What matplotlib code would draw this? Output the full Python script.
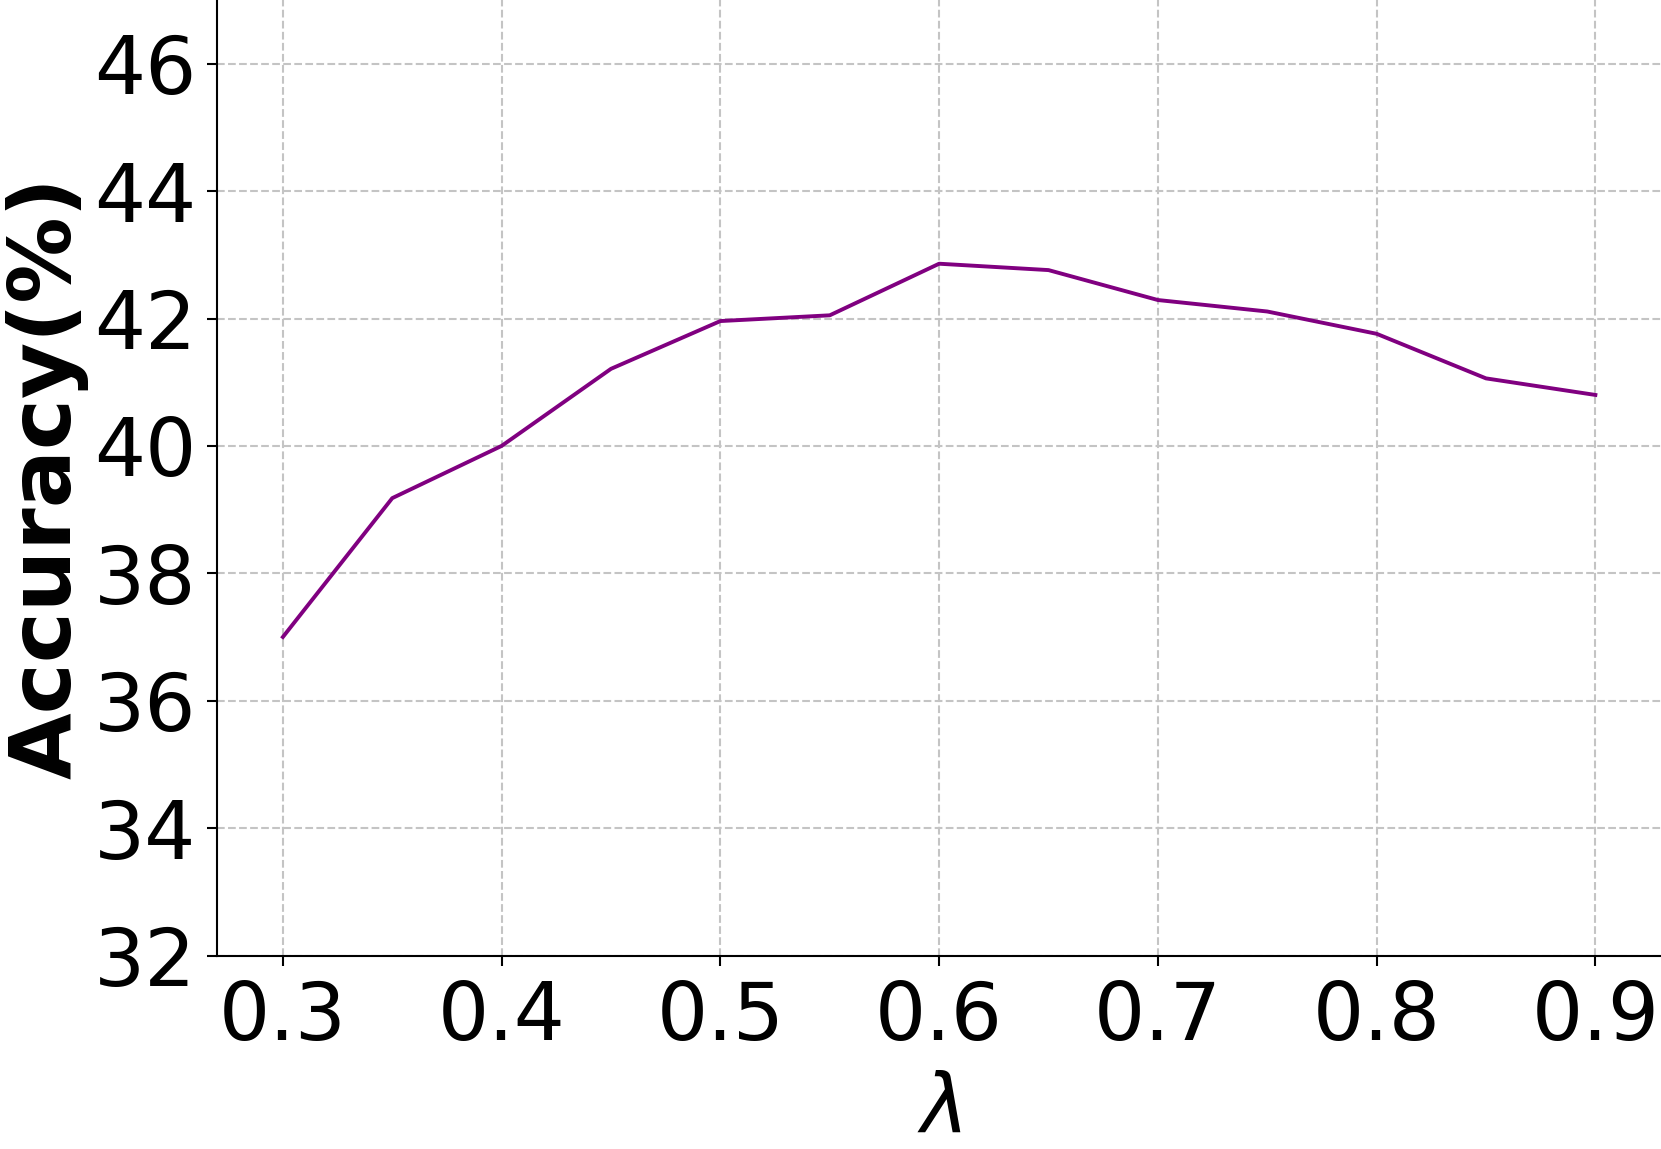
import numpy as np
import matplotlib
matplotlib.use('Agg')
import matplotlib.pyplot as plt

lam = [0.30, 0.35, 0.40, 0.45, 0.50, 0.55, 0.60, 0.65, 0.70, 0.75, 0.80, 0.85, 0.90]
acc = [37.0, 39.18, 40.0, 41.21, 41.96, 42.05, 42.86, 42.76, 42.29, 42.11, 41.76, 41.06, 40.80]
xticks = [0.3, 0.4, 0.5, 0.6, 0.7, 0.8, 0.9]
yticks = [32, 34, 36, 38, 40, 42, 44, 46]

fig = plt.figure(figsize=(16.61, 11.49), dpi=100)
ax = fig.add_axes([0.1308, 0.1684, 0.8692, 0.8316])

ax.plot(lam, acc, color='purple', linewidth=2.8)

ax.set_xlim(0.27, 0.93)
ax.set_ylim(32, 47)
ax.set_xticks(xticks)
ax.set_xticklabels([f'{t:.1f}' for t in xticks])
ax.set_yticks(yticks)
ax.grid(True, linestyle='--', color='#c4c4c4', linewidth=1.5)
ax.set_axisbelow(True)

for s in ['top', 'right']:
    ax.spines[s].set_visible(False)
for s in ['left', 'bottom']:
    ax.spines[s].set_linewidth(1.5)

ax.tick_params(axis='both', labelsize=58, length=7, width=1.5)
ax.tick_params(axis='x', pad=10)
ax.tick_params(axis='y', pad=8)

ax.set_xlabel(r'$\lambda$', fontsize=58, labelpad=10)
ax.set_ylabel('Accuracy(%)', fontsize=62, fontweight='bold', labelpad=4)

fig.savefig('out.png', dpi=100)
